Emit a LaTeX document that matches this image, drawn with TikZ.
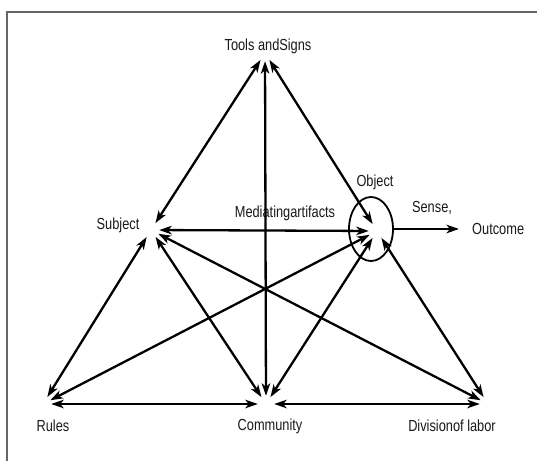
\documentclass[tikz,border=0pt]{standalone}
\usepackage{fontspec}
\setmainfont{Liberation Sans}[FakeStretch=0.8]
\usetikzlibrary{positioning,arrows.meta,shapes.geometric}
\begin{document}
\begin{tikzpicture}[x=1pt, y=-1pt,
		hub/.style={circle, inner sep=0pt, minimum size=16pt},
		lbl/.style={font=\fontsize{16}{18}\selectfont, text=black!90, inner sep=1pt},
		oval/.style={draw=black, ellipse, line width=1.8pt, inner sep=0pt,
				minimum width=44pt, minimum height=64pt},
		ar/.style={{Stealth[length=12.5pt,width=8.5pt,inset=3.5pt]}-{Stealth[length=12.5pt,width=8.5pt,inset=3.5pt]}, line width=2.3pt},
		sar/.style={-{Stealth[length=12.5pt,width=8.5pt,inset=3.5pt]}, line width=2.3pt},
		frame/.style={draw=black!60, line width=1.5pt},
	]
	\useasboundingbox (0,0) rectangle (537,461);
	\draw[frame] (7,461) -- (7,12) -- (537,12);
	\node[hub] (tools) at (265, 53) {};
	\node[hub] (subj)  at (151,230) {};
	\node[hub] (obj)   at (377,231) {};
	\node[hub] (rules) at ( 43,404) {};
	\node[hub] (comm)  at (266,404) {};
	\node[hub] (div)   at (488,404) {};
	\node[oval] (objoval) at (371,229) {};
	\node[lbl] (toolslbl) at (268, 46) {Tools andSigns};
	\node[lbl] (subjlbl)  at (118,225) {Subject};
	\node[lbl] (medlbl)   at (285,213) {Mediatingartifacts};
	\node[lbl] (objlbl)   at (375,182) {Object};
	\node[lbl] (senselbl) at (432,208) {Sense,};
	\node[lbl, anchor=west] (outlbl) at (471,229) {Outcome};
	\node[lbl] (ruleslbl) at ( 53,426) {Rules};
	\node[lbl] (commlbl)  at (270,426) {Community};
	\node[lbl] (divlbl)   at (452,426) {Divisionof labor};
	\draw[ar] (subj) -- (tools);
	\draw[ar] (tools) -- (comm);
	\draw[ar] (tools) -- (obj);
	\draw[ar] (subj) -- (obj);
	\draw[ar] (subj) -- (rules);
	\draw[ar] (rules) -- (comm);
	\draw[ar] (comm) -- (div);
	\draw[ar] (obj) -- (div);
	\draw[ar] (subj) -- (comm);
	\draw[ar] (subj) -- (div);
	\draw[ar] (rules) -- (obj);
	\draw[ar] (comm) -- (obj);
	\draw[sar, shorten >=12pt] (objoval.east) -- (outlbl.west);
\end{tikzpicture}
\end{document}
